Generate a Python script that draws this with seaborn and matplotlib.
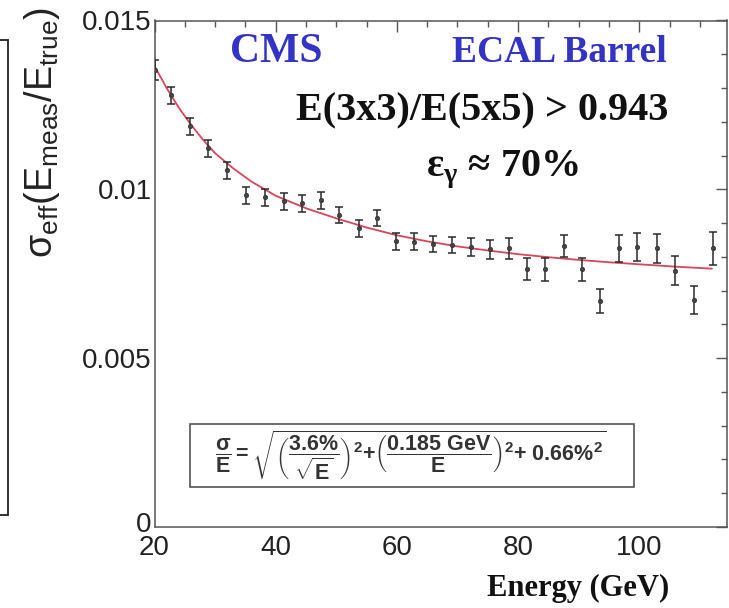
import matplotlib
matplotlib.use("Agg")
import matplotlib.pyplot as plt
import matplotlib.transforms as mtransforms
import seaborn as sns
import pandas as pd
from matplotlib.lines import Line2D
from matplotlib.patches import Rectangle

# ---- data ----
energy = [20.1, 22.7, 25.9, 28.9, 32.0, 35.1, 38.2, 41.3, 44.4, 47.5, 50.5,
          53.7, 56.7, 59.9, 62.8, 66.0, 69.1, 72.2, 75.4, 78.5, 81.4, 84.4,
          87.5, 90.5, 93.5, 96.7, 99.7, 102.9, 105.9, 109.0, 112.2]
sigma_eff = [0.01353, 0.01279, 0.01187, 0.01121, 0.01057, 0.00983, 0.00976,
             0.00965, 0.00959, 0.00968, 0.00924, 0.00885, 0.00915, 0.00846,
             0.00845, 0.00838, 0.00835, 0.00830, 0.00822, 0.00825, 0.00764,
             0.00763, 0.00832, 0.00763, 0.00670, 0.00825, 0.00830, 0.00825,
             0.00759, 0.00672, 0.00825]
sigma_err = [0.00030, 0.00025, 0.00025, 0.00025, 0.00025, 0.00025, 0.00025,
             0.00025, 0.00025, 0.00025, 0.00025, 0.00025, 0.00025, 0.00025,
             0.00025, 0.00025, 0.00025, 0.00027, 0.00028, 0.00030, 0.00033,
             0.00033, 0.00033, 0.00033, 0.00035, 0.00041, 0.00042, 0.00044,
             0.00043, 0.00041, 0.00049]
fit_energy = [20, 22, 24, 26, 28, 30, 33, 36, 40, 45, 50, 55, 60, 65, 70, 75,
              80, 85, 90, 95, 100, 106, 112]
fit_sigma = [0.01365, 0.01300, 0.01242, 0.01192, 0.01147, 0.01107, 0.01062,
             0.01023, 0.00981, 0.00944, 0.00914, 0.00887, 0.00864, 0.00846,
             0.00831, 0.00819, 0.00808, 0.00799, 0.00791, 0.00784, 0.00778,
             0.00771, 0.00765]
x_ticks = [20, 40, 60, 80, 100]
y_ticks = [0, 0.005, 0.01, 0.015]
y_tick_labels = ["0", "0.005", "0.01", "0.015"]

df = pd.DataFrame({"E": energy, "s": sigma_eff, "err": sigma_err})
fit = pd.DataFrame({"E": fit_energy, "s": fit_sigma})

sns.set_theme(style="white")
plt.rcParams["font.family"] = ["Liberation Sans", "DejaVu Sans"]
plt.rcParams["mathtext.fontset"] = "custom"
plt.rcParams["mathtext.rm"] = "Liberation Sans"
plt.rcParams["mathtext.it"] = "Liberation Sans:italic"
plt.rcParams["mathtext.bf"] = "Liberation Sans:bold"
plt.rcParams["mathtext.sf"] = "Liberation Serif:bold"

W, H = 729, 608
fig = plt.figure(figsize=(W / 100, H / 100), dpi=100)
fig.patch.set_facecolor("white")

L, R, T, B = 154.5, 726.5, 20.5, 527.0
ax = fig.add_axes([L / W, 1 - B / H, (R - L) / W, (B - T) / H])
ax.set_facecolor("white")

# fit curve
sns.lineplot(data=fit, x="E", y="s", ax=ax, color="#d8455a", lw=1.3,
             zorder=2, legend=False)
# error bars and markers
ax.errorbar(df["E"], df["s"], yerr=df["err"], fmt="none", ecolor="#2a2a2a",
            elinewidth=1.1, capsize=3, capthick=1.1, zorder=3)
sns.scatterplot(data=df, x="E", y="s", ax=ax, color="#444444", s=10,
                marker="o", edgecolor="#333333", linewidth=0.5, zorder=4,
                legend=False)

ax.set_xlim(20, 114.4)
ax.set_ylim(0, 0.015)
ax.set_xticks(x_ticks)
ax.set_xticklabels([str(v) for v in x_ticks])
ax.set_yticks(y_ticks)
ax.set_yticklabels(y_tick_labels)
ax.xaxis.set_minor_locator(matplotlib.ticker.MultipleLocator(5))
ax.yaxis.set_minor_locator(matplotlib.ticker.MultipleLocator(0.001))
ax.tick_params(which="both", direction="in", top=True, right=True,
               colors="#555555", labelcolor="#222222", width=1.0)
ax.tick_params(which="major", length=8, labelsize=20)
ax.tick_params(axis="x", which="major", pad=6)
ax.tick_params(axis="y", which="major", pad=2)
ax.tick_params(which="minor", length=4.5)
for sp in ax.spines.values():
    sp.set_color("#555555")
    sp.set_linewidth(1.1)
ax.set_xlabel("")
ax.set_ylabel("")
# lift the "0" label a few pixels like the reference
zero_lbl = ax.get_yticklabels()[0]
zero_lbl.set_transform(zero_lbl.get_transform() +
                       mtransforms.ScaledTranslation(0, 5 / 100,
                                                     fig.dpi_scale_trans))

# y label (ROOT style, top aligned)
fig.text(42 / W, 1 - 132 / H,
         r"$\mathrm{\sigma_{eff}(E_{meas}/E_{true})}$",
         rotation=90, ha="center", va="center", fontsize=27, color="#222222")
# x label
fig.text(578 / W, 1 - 588 / H, "Energy (GeV)", ha="center", va="center",
         fontsize=22, fontweight="bold", family="Liberation Serif",
         color="#111111")

# annotations
blue = "#3434c4"
fig.text(276 / W, 1 - 52 / H, "CMS", ha="center", va="center", fontsize=30,
         fontweight="bold", family="Liberation Serif", color=blue)
fig.text(559 / W, 1 - 52 / H, "ECAL Barrel", ha="center", va="center",
         fontsize=27, fontweight="bold", family="Liberation Serif", color=blue)
fig.text(482 / W, 1 - 111 / H, "E(3x3)/E(5x5) > 0.943", ha="center",
         va="center", fontsize=29, fontweight="bold",
         family="Liberation Serif", color="#111111")
fig.text(502 / W, 1 - 170 / H, r"$\mathsf{ε}_{\mathsf{γ}}$ ≈ 70%",
         ha="center", va="center", fontsize=29, fontweight="bold",
         family=["Liberation Serif", "DejaVu Serif"], color="#111111")

# formula box
fig.patches.append(Rectangle((190 / W, 1 - 487 / H), (634 - 190) / W,
                             (487 - 424) / H, transform=fig.transFigure,
                             facecolor="white", edgecolor="#555555", lw=1.2,
                             zorder=5))
formula = (r"$\dfrac{\mathbf{σ}}{\mathbf{E}}\mathbf{=}"
           r"\sqrt{\left(\dfrac{\mathbf{3.6\%}}{\sqrt{\mathbf{E}}}\right)^{\mathbf{2}}"
           r"\mathbf{+}\left(\dfrac{\mathbf{0.185\ GeV}}{\mathbf{E}}\right)^{\mathbf{2}}"
           r"\mathbf{+\ 0.66\%}^{\mathbf{2}}}$")
fig.text(411 / W, 1 - 456 / H, formula, ha="center", va="center",
         fontsize=15.5, color="#333333", zorder=6)

# bracket of neighbouring panel at the far left
bx = 8 / W
for xs, ys in [([bx, bx], [1 - 40 / H, 1 - 515 / H]),
               ([0, bx], [1 - 40 / H, 1 - 40 / H]),
               ([0, bx], [1 - 515 / H, 1 - 515 / H])]:
    fig.add_artist(Line2D(xs, ys, transform=fig.transFigure, color="#222222",
                          lw=1.3))

fig.savefig("out.png", dpi=100, facecolor="white")
